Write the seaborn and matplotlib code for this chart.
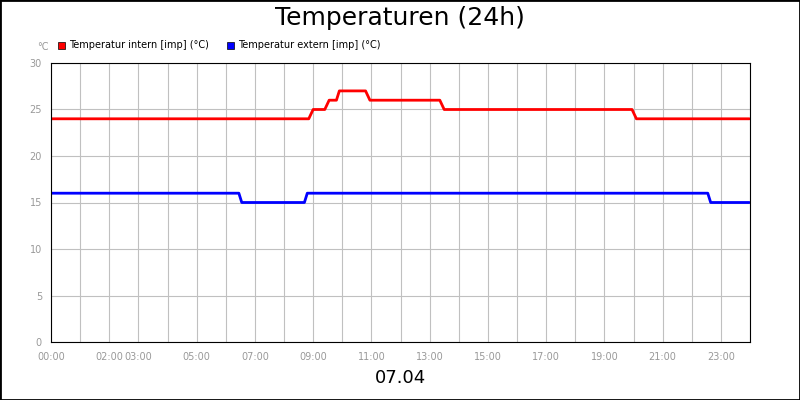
import numpy as np
import pandas as pd
import matplotlib
matplotlib.use("Agg")
import matplotlib.pyplot as plt
import seaborn as sns

# times in hours, values in °C
intern_t = [0.0, 8.85, 9.0, 9.4, 9.55, 9.8, 9.9, 10.8, 10.95, 13.35, 13.5, 19.95, 20.1, 23.98]
intern_v = [24, 24, 25, 25, 26, 26, 27, 27, 26, 26, 25, 25, 24, 24]
extern_t = [0.0, 6.45, 6.55, 8.7, 8.8, 22.55, 22.65, 23.98]
extern_v = [16, 16, 15, 15, 16, 16, 15, 15]

tick_hours = [0, 2, 3, 5, 7, 9, 11, 13, 15, 17, 19, 21, 23]
tick_labels = ["00:00", "02:00", "03:00", "05:00", "07:00", "09:00", "11:00",
               "13:00", "15:00", "17:00", "19:00", "21:00", "23:00"]

df = pd.concat([
    pd.DataFrame({"t": intern_t, "v": intern_v, "s": "Temperatur intern [imp] (°C)"}),
    pd.DataFrame({"t": extern_t, "v": extern_v, "s": "Temperatur extern [imp] (°C)"}),
])

sns.set_style("white")
plt.rcParams["text.color"] = "black"
fig = plt.figure(figsize=(8, 4), dpi=100)
ax = fig.add_axes([51 / 800, 1 - 342 / 400, 699 / 800, 279 / 400])
sns.lineplot(data=df, x="t", y="v", hue="s", palette=["#ff0000", "#0000ff"],
             linewidth=2, ax=ax, legend=False, sort=False, estimator=None)

ax.set_xlim(0, 24)
ax.set_ylim(0, 30)
ax.set_xticks(range(0, 25), minor=True)
ax.set_xticks(tick_hours)
ax.set_xticklabels(tick_labels)
ax.set_yticks(range(0, 31, 5))
ax.grid(True, which="both", axis="x", color="#c0c0c0", linewidth=0.8)
ax.grid(True, which="major", axis="y", color="#c0c0c0", linewidth=0.8)
ax.tick_params(labelsize=7, colors="#999999", length=3, which="both")
ax.tick_params(axis="x", pad=4)
for s in ax.spines.values():
    s.set_color("black")
    s.set_linewidth(0.8)
ax.set_xlabel("")
ax.set_ylabel("")

fig.text(0.5, 1 - 18 / 400, "Temperaturen (24h)", ha="center", va="center", fontsize=18)
fig.text(0.5, 1 - 378 / 400, "07.04", ha="center", va="center", fontsize=13)
fig.text(37 / 800, 1 - 47 / 400, "°C", ha="left", va="center", fontsize=7, color="#999999")

# legend
for x0, col, lab in [(58, "#ff0000", "Temperatur intern [imp] (°C)"),
                     (227, "#0000ff", "Temperatur extern [imp] (°C)")]:
    fig.patches.append(plt.Rectangle((x0 / 800, 1 - 49 / 400), 7 / 800, 7 / 400,
                                     facecolor=col, edgecolor="black", linewidth=0.5,
                                     transform=fig.transFigure))
    fig.text((x0 + 11) / 800, 1 - 45 / 400, lab, ha="left", va="center", fontsize=7)

fig.patches.append(plt.Rectangle((0, 0), 1, 1, fill=False, edgecolor="black",
                                 linewidth=2, transform=fig.transFigure))
fig.savefig("out.png", dpi=100)
